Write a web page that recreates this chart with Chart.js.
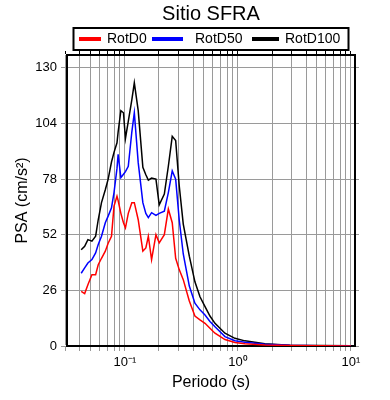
<!DOCTYPE html>
<html>
<head>
<meta charset="utf-8">
<script src="https://cdn.jsdelivr.net/npm/chart.js@4"></script>
<style>
  html, body { margin: 0; padding: 0; background: #fff; }
  canvas { display: block; }
</style>
</head>
<body>
<canvas id="psaChart" width="390" height="400"></canvas>
<script>
// periods (s) and spectral accelerations (cm/s2)
const periods = [0.041, 0.044, 0.047, 0.051, 0.055, 0.058, 0.062, 0.067, 0.071, 0.076,
  0.080, 0.085, 0.087, 0.092, 0.097, 0.101, 0.107, 0.115, 0.121, 0.131,
  0.144, 0.153, 0.161, 0.172, 0.188, 0.201, 0.223, 0.242, 0.262, 0.281,
  0.302, 0.328, 0.371, 0.416, 0.461, 0.511, 0.565, 0.626, 0.767, 0.94,
  1.15, 1.73, 2.88, 5.3, 10];

const rotD0 = [25.5, 24.5, 28.6, 33.3, 33.3, 38, 41, 44.3, 48, 51.3,
  65.4, 70, 68, 62, 57.6, 55.2, 62, 67, 67, 59,
  44.3, 45.8, 51.3, 40.4, 52, 48.2, 52, 64, 57.6, 41,
  35.7, 31, 21, 14, 12.2, 10.6, 8.3, 6, 3, 1.6,
  1.1, 0.5, 0.2, 0.1, 0.05];

const rotD50 = [34, 36.5, 38.8, 40.4, 43.5, 47.4, 51.3, 57.6, 60.7, 64.6,
  71.7, 83, 89.6, 78.7, 80.3, 81.5, 84, 100, 109, 85.7,
  67, 62, 60, 62.3, 61, 62, 63, 71.7, 81.8, 78,
  59, 43, 28, 20, 16.9, 14.5, 11.5, 9, 4.4, 2.5,
  1.7, 0.8, 0.3, 0.15, 0.1];

const rotD100 = [45, 46.6, 49.7, 49, 51.3, 59, 67, 73, 78, 86,
  90.5, 95, 100, 110, 109, 97, 105, 115, 123, 110,
  83.5, 80, 77.5, 78.5, 78, 66, 71, 84, 98, 96,
  75, 57, 42, 30, 23, 18.4, 14, 10.6, 6, 3.6,
  2.4, 1.0, 0.4, 0.2, 0.1];

const seriesNames = ["RotD0", "RotD50", "RotD100"];
const seriesColors = ["#ff0000", "#0000ff", "#000000"];
const yTicks = [0, 26, 52, 78, 104, 130];
const xTicks = [0.03, 0.04, 0.05, 0.06, 0.07, 0.08, 0.09,
  0.1, 0.2, 0.3, 0.4, 0.5, 0.6, 0.7, 0.8, 0.9,
  1, 2, 3, 4, 5, 6, 7, 8, 9, 10];
const xMajorLabels = { 0.1: "10\u207B\u00B9", 1: "10\u2070", 10: "10\u00B9" };

const FONT = "'Liberation Sans', Arial, sans-serif";
const gridGray = "#9a9a9a";

const toPoints = vals => vals.map((v, i) => ({ x: periods[i], y: v }));
const seriesValues = [rotD0, rotD50, rotD100];

// title + legend box drawn on top of the chart area
const headerPlugin = {
    id: "header",
    afterDraw(chart) {
        const ctx = chart.ctx;
        const area = chart.chartArea;
        const cx = (area.left + area.right) / 2;
        ctx.save();
        ctx.fillStyle = "#000";
        ctx.textAlign = "center";
        ctx.textBaseline = "middle";
        ctx.font = "20px " + FONT;
        ctx.fillText("Sitio SFRA", cx, 14.5);

        // legend frame
        ctx.strokeStyle = "#000";
        ctx.lineWidth = 2;
        ctx.strokeRect(73.5, 28, 275, 22);

        const items = [
            { x0: 79, x1: 101, tx: 107 },
            { x0: 152, x1: 183, tx: 195 },
            { x0: 252, x1: 279, tx: 285 }
        ];
        ctx.font = "14px " + FONT;
        ctx.textAlign = "left";
        chart.data.datasets.forEach((ds, i) => {
            const it = items[i];
            ctx.strokeStyle = ds.borderColor;
            ctx.lineWidth = 4;
            ctx.beginPath();
            ctx.moveTo(it.x0, 39);
            ctx.lineTo(it.x1, 39);
            ctx.stroke();
            ctx.fillStyle = "#000";
            ctx.fillText(ds.label, it.tx, 39.5);
        });
        ctx.restore();
    }
};

const ctx = document.getElementById("psaChart").getContext("2d");

new Chart(ctx, {
    type: "line",
    data: {
        datasets: seriesNames.map((name, i) => ({
            label: name,
            data: toPoints(seriesValues[i]),
            borderColor: seriesColors[i],
            backgroundColor: seriesColors[i],
            borderWidth: 1.5,
            pointRadius: 0,
            tension: 0,
            xAxisID: "x",
            yAxisID: "y"
        }))
    },
    options: {
        responsive: false,
        animation: false,
        layout: { padding: { top: 51, left: 0, right: 0, bottom: 0 } },
        plugins: {
            legend: { display: false },
            title: { display: false },
            tooltip: { enabled: false }
        },
        scales: {
            x: {
                type: "logarithmic",
                position: "bottom",
                min: 0.0307,
                max: 10.85,
                afterBuildTicks: s => { s.ticks = xTicks.map(v => ({ value: v })); },
                afterFit: s => { s.height = 54; },
                ticks: {
                    autoSkip: false,
                    maxRotation: 0,
                    minRotation: 0,
                    padding: 4,
                    color: "#000",
                    font: { family: FONT, size: 13 },
                    callback: v => xMajorLabels[v] || ""
                },
                grid: { color: gridGray, lineWidth: 1, tickLength: 5 },
                border: { color: "#000", width: 2 },
                title: {
                    display: true,
                    text: "Periodo (s)",
                    color: "#000",
                    font: { family: FONT, size: 16 },
                    padding: { top: 0, bottom: 8 }
                }
            },
            x2: {
                type: "logarithmic",
                position: "top",
                min: 0.0307,
                max: 10.85,
                afterBuildTicks: s => { s.ticks = xTicks.map(v => ({ value: v })); },
                afterFit: s => { s.height = 4; },
                ticks: { display: false },
                grid: { drawOnChartArea: false, color: "#000", tickLength: 4 },
                border: { color: "#000", width: 2 }
            },
            y: {
                type: "linear",
                position: "left",
                min: 0,
                max: 136,
                afterBuildTicks: s => { s.ticks = yTicks.map(v => ({ value: v })); },
                afterFit: s => { s.width = 67; },
                ticks: {
                    padding: 4,
                    color: "#000",
                    font: { family: FONT, size: 13 }
                },
                grid: { color: gridGray, lineWidth: 1, tickLength: 6 },
                border: { color: "#000", width: 2 },
                title: {
                    display: true,
                    text: "PSA (cm/s\u00B2)",
                    color: "#000",
                    font: { family: FONT, size: 16 },
                    padding: { top: 13, bottom: 0 }
                }
            },
            y2: {
                type: "linear",
                position: "right",
                min: 0,
                max: 136,
                afterBuildTicks: s => { s.ticks = yTicks.map(v => ({ value: v })); },
                afterFit: s => { s.width = 35; },
                ticks: { display: false },
                grid: { drawOnChartArea: false, color: gridGray, tickLength: 4 },
                border: { color: "#000", width: 2 }
            }
        }
    },
    plugins: [headerPlugin]
});
</script>
</body>
</html>
